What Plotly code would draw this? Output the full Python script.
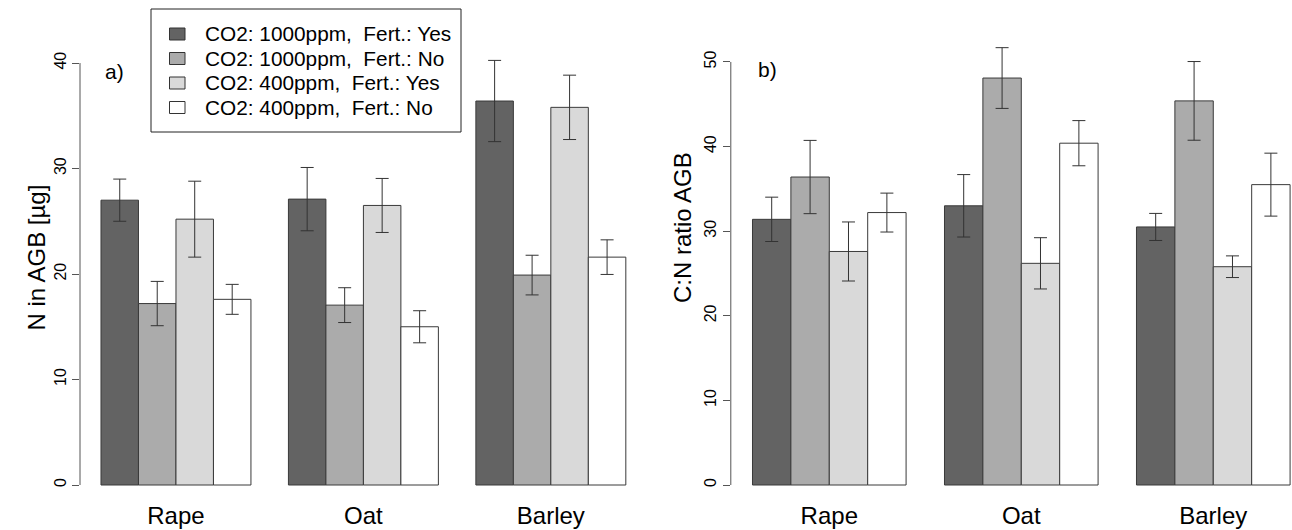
import plotly.graph_objects as go

# ---------------- data ----------------
crops = ["Rape", "Oat", "Barley"]
series_names = [
    "CO2: 1000ppm,\u00a0 Fert.: Yes",
    "CO2: 1000ppm,\u00a0 Fert.: No",
    "CO2: 400ppm,\u00a0 Fert.: Yes",
    "CO2: 400ppm,\u00a0 Fert.: No",
]
fill_colors = ["#636363", "#ababab", "#d9d9d9", "#ffffff"]

# panel a) N in AGB [µg]  (means and standard errors per crop)
n_hi_fert = [27.0, 27.1, 36.4]
n_hi_nofert = [17.2, 17.05, 19.9]
n_lo_fert = [25.2, 26.5, 35.8]
n_lo_nofert = [17.6, 15.0, 21.6]
n_hi_fert_se = [2.0, 3.0, 3.85]
n_hi_nofert_se = [2.1, 1.65, 1.88]
n_lo_fert_se = [3.6, 2.56, 3.05]
n_lo_nofert_se = [1.42, 1.52, 1.64]

# panel b) C:N ratio AGB
cn_hi_fert = [31.4, 33.0, 30.5]
cn_hi_nofert = [36.4, 48.1, 45.4]
cn_lo_fert = [27.6, 26.2, 25.8]
cn_lo_nofert = [32.2, 40.4, 35.5]
cn_hi_fert_se = [2.62, 3.69, 1.6]
cn_hi_nofert_se = [4.33, 3.59, 4.65]
cn_lo_fert_se = [3.49, 3.03, 1.28]
cn_lo_nofert_se = [2.3, 2.67, 3.72]

n_ticks = [0, 10, 20, 30, 40]
cn_ticks = [0, 10, 20, 30, 40, 50]

# ---------------- figure ----------------
W, H = 1292, 530
FONT = "Liberation Sans, Arial, Helvetica, sans-serif"
plot_top, plot_bottom = 20, 510
label_axis_y = 499  # where the category labels hang from (px from top)

fig = go.Figure()

panels = [
    ("x", "y", [n_hi_fert, n_hi_nofert, n_lo_fert, n_lo_nofert],
     [n_hi_fert_se, n_hi_nofert_se, n_lo_fert_se, n_lo_nofert_se]),
    ("x2", "y2", [cn_hi_fert, cn_hi_nofert, cn_lo_fert, cn_lo_nofert],
     [cn_hi_fert_se, cn_hi_nofert_se, cn_lo_fert_se, cn_lo_nofert_se]),
]
for xa, ya, vals, ses in panels:
    for name, col, v, se in zip(series_names, fill_colors, vals, ses):
        fig.add_trace(go.Bar(
            x=crops, y=v, name=name, xaxis=xa, yaxis=ya,
            marker=dict(color=col, line=dict(color="#3a3a3a", width=1)),
            error_y=dict(type="data", array=se, visible=True,
                         color="#333333", thickness=1, width=6.5),
            showlegend=False,
        ))

ydom = [(H - plot_bottom) / H, (H - plot_top) / H]
xpos = (H - label_axis_y) / H

axis_common = dict(showgrid=False, zeroline=False, showline=False, automargin=False)
fig.update_layout(
    width=W, height=H,
    margin=dict(l=0, r=0, t=0, b=0, autoexpand=False),
    paper_bgcolor="white", plot_bgcolor="white",
    barmode="group", bargap=0.2, bargroupgap=0,
    font=dict(family=FONT, color="black"),
    xaxis=dict(domain=[80 / W, 647 / W], range=[-0.512, 2.513], anchor="free",
               position=xpos,
               ticks="", tickfont=dict(size=24, color="black"), **axis_common),
    xaxis2=dict(domain=[730.8 / W, 1.0], range=[-0.513, 2.41], anchor="free",
                position=xpos,
                ticks="", tickfont=dict(size=24, color="black"), **axis_common),
    yaxis=dict(domain=ydom, range=[-2.37, 44.08], anchor="x",
               tickvals=n_ticks, ticks="outside", ticklen=7, tickcolor="#555555",
               tickangle=-90, tickfont=dict(size=16, color="black"), **axis_common),
    yaxis2=dict(domain=ydom, range=[-2.955, 54.96], anchor="x2",
                tickvals=cn_ticks, ticks="outside", ticklen=7, tickcolor="#555555",
                tickangle=-90, tickfont=dict(size=16, color="black"), **axis_common),
)

# axis lines spanning the tick range (R style)
for xd, yr, ticks in [("x domain", "y", n_ticks), ("x2 domain", "y2", cn_ticks)]:
    fig.add_shape(type="line", xref=xd, yref=yr, x0=0, x1=0,
                  y0=min(ticks), y1=max(ticks), line=dict(color="#555555", width=1))

def px_x(p):
    return p / W

def px_y(p):
    return 1 - p / H

# axis titles
fig.add_annotation(text="N in AGB [µg]", xref="paper", yref="paper",
                   x=px_x(20), y=px_y(258), textangle=-90, showarrow=False,
                   font=dict(size=24, family=FONT, color="black"))
fig.add_annotation(text="C:N ratio AGB", xref="paper", yref="paper",
                   x=px_x(682), y=px_y(228), textangle=-90, showarrow=False,
                   font=dict(size=24, family=FONT, color="black"))

# panel labels
fig.add_annotation(text="a)", xref="paper", yref="paper", x=px_x(103), y=px_y(71.5),
                   xanchor="left", yanchor="middle", showarrow=False,
                   font=dict(size=21, family=FONT, color="black"))
fig.add_annotation(text="b)", xref="paper", yref="paper", x=px_x(756), y=px_y(70),
                   xanchor="left", yanchor="middle", showarrow=False,
                   font=dict(size=21, family=FONT, color="black"))

# legend box (drawn in R style)
lg_left, lg_right, lg_top, lg_bottom = 151, 461, 9, 132
fig.add_shape(type="rect", xref="paper", yref="paper",
              x0=px_x(lg_left), x1=px_x(lg_right), y0=px_y(lg_bottom), y1=px_y(lg_top),
              line=dict(color="#222222", width=1), fillcolor="white", layer="above")
row0, row_step = 34, 24.5
for i, (name, col) in enumerate(zip(series_names, fill_colors)):
    cy = row0 + i * row_step
    fig.add_shape(type="rect", xref="paper", yref="paper",
                  x0=px_x(169.5), x1=px_x(185), y0=px_y(cy + 6), y1=px_y(cy - 6),
                  line=dict(color="#333333", width=1), fillcolor=col, layer="above")
    fig.add_annotation(text=name, xref="paper", yref="paper", x=px_x(203), y=px_y(cy),
                       xanchor="left", yanchor="middle", showarrow=False,
                       font=dict(size=20.8, family=FONT, color="black"))

fig.write_html("out.html")
